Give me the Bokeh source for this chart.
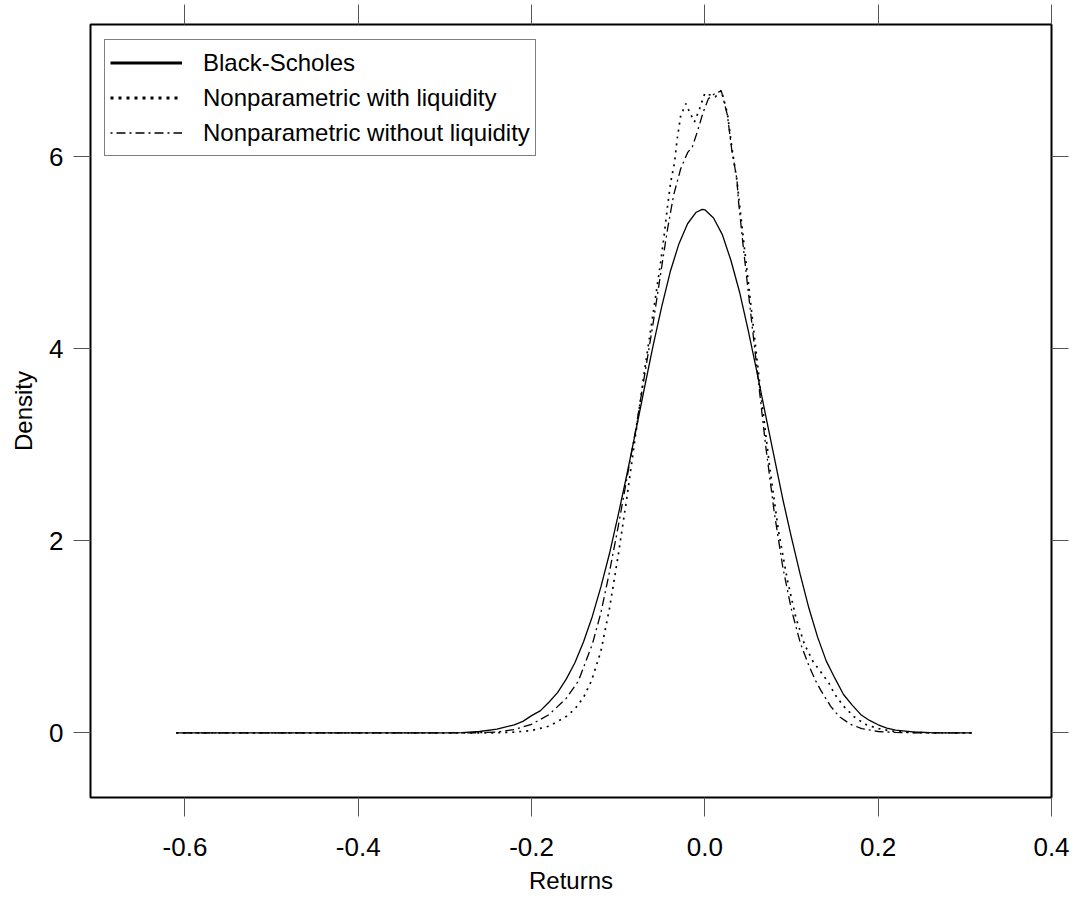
from bokeh.plotting import figure
from bokeh.models import (Range1d, LinearAxis, FixedTicker, Legend, LegendItem,
                          CustomLabelingPolicy)
from bokeh.embed import file_html
from bokeh.resources import INLINE

# ---- data ----
bs_x = [-0.61, -0.5, -0.4, -0.3, -0.28, -0.26, -0.24, -0.22, -0.21, -0.20, -0.19, -0.18, -0.17, -0.16,
        -0.15, -0.14, -0.13, -0.12, -0.11, -0.10, -0.09, -0.08, -0.07, -0.06, -0.05, -0.04, -0.03,
        -0.02, -0.01, -0.003, 0.0, 0.01, 0.02, 0.03, 0.04, 0.05, 0.06, 0.07, 0.08, 0.09, 0.10, 0.11,
        0.12, 0.13, 0.14, 0.15, 0.16, 0.17, 0.18, 0.19, 0.20, 0.21, 0.22, 0.24, 0.26, 0.28, 0.308]
bs_y = [0.0, 0.0, 0.0, 0.0, 0.004, 0.015, 0.04, 0.085, 0.12, 0.18, 0.23, 0.32, 0.42, 0.56,
        0.73, 0.95, 1.21, 1.52, 1.87, 2.27, 2.69, 3.13, 3.58, 4.02, 4.43, 4.80, 5.09,
        5.30, 5.42, 5.45, 5.445, 5.36, 5.19, 4.92, 4.59, 4.19, 3.76, 3.31, 2.87, 2.43, 2.03, 1.65,
        1.30, 1.00, 0.75, 0.57, 0.40, 0.29, 0.19, 0.13, 0.085, 0.05, 0.03, 0.01, 0.003, 0.001, 0.0]

wl_x = [-0.61, -0.5, -0.4, -0.3, -0.26, -0.24, -0.22, -0.20, -0.18, -0.16, -0.15, -0.14, -0.131,
        -0.12, -0.11, -0.10, -0.09, -0.08, -0.07, -0.06, -0.051, -0.047, -0.043, -0.0395, -0.035,
        -0.032, -0.028, -0.022, -0.017, -0.012, -0.006, 0.0, 0.006, 0.012, 0.019, 0.026, 0.031,
        0.037, 0.04, 0.045, 0.055, 0.065, 0.075, 0.085, 0.095, 0.105, 0.115, 0.125, 0.135, 0.143,
        0.15, 0.16, 0.172, 0.185, 0.20, 0.215, 0.23, 0.25, 0.27, 0.308]
wl_y = [0.0, 0.0, 0.0, 0.0, 0.0, 0.002, 0.008, 0.025, 0.07, 0.17, 0.25, 0.37, 0.54,
        0.85, 1.30, 1.85, 2.45, 3.10, 3.75, 4.35, 4.90, 5.18, 5.49, 5.73, 5.94,
        6.18, 6.42, 6.55, 6.45, 6.36, 6.50, 6.66, 6.64, 6.62, 6.69, 6.45, 6.10,
        5.75, 5.50, 5.10, 4.30, 3.50, 2.75, 2.10, 1.60, 1.20, 0.92, 0.74, 0.62, 0.52,
        0.40, 0.28, 0.17, 0.09, 0.045, 0.02, 0.01, 0.003, 0.0, 0.0]

wo_x = [-0.61, -0.5, -0.4, -0.3, -0.26, -0.24, -0.22, -0.20, -0.18, -0.16, -0.146, -0.13, -0.12,
        -0.11, -0.10, -0.09, -0.08, -0.07, -0.06, -0.049, -0.043, -0.036, -0.028, -0.020, -0.0145,
        -0.009, -0.002, 0.004, 0.012, 0.019, 0.026, 0.031, 0.037, 0.0385, 0.045, 0.05, 0.055, 0.06,
        0.07, 0.08, 0.09, 0.10, 0.11, 0.12, 0.128, 0.134, 0.145, 0.155, 0.168, 0.181, 0.20, 0.22,
        0.25, 0.308]
wo_y = [0.0, 0.0, 0.0, 0.0, 0.002, 0.01, 0.035, 0.09, 0.19, 0.36, 0.54, 0.92, 1.25,
        1.68, 2.15, 2.65, 3.15, 3.70, 4.25, 4.90, 5.25, 5.60, 5.87, 6.04, 6.10,
        6.25, 6.46, 6.60, 6.66, 6.68, 6.43, 6.07, 5.76, 5.56, 5.00, 4.60, 4.20, 3.80,
        3.00, 2.30, 1.72, 1.28, 0.94, 0.70, 0.54, 0.44, 0.28, 0.17, 0.09, 0.045, 0.015, 0.005,
        0.0, 0.0]

x_ticks = [-0.6, -0.4, -0.2, 0.0, 0.2, 0.4]
x_tick_labels = ["-0.6", "-0.4", "-0.2", "0.0", "0.2", "0.4"]
y_ticks = [0, 2, 4, 6]
y_tick_labels = ["0", "2", "4", "6"]
series_names = ["Black-Scholes", "Nonparametric with liquidity", "Nonparametric without liquidity"]

FONT = "Liberation Sans, Arial, Helvetica, sans-serif"
TICK_COLOR = "#555555"

p = figure(width=1078, height=901,
           x_range=Range1d(-0.709, 0.4), y_range=Range1d(-0.672, 7.374),
           output_backend="svg", toolbar_location=None,
           min_border_left=90, min_border_right=27, min_border_top=22, min_border_bottom=104)
p.grid.visible = False
p.outline_line_color = "black"
p.outline_line_width = 2
p.background_fill_color = "white"
p.border_fill_color = "white"

xt = FixedTicker(ticks=x_ticks)
yt = FixedTicker(ticks=y_ticks)

no_labels = CustomLabelingPolicy(code="return new Set()")

def style(ax, ticker, labels, out, show_labels=True):
    ax.ticker = ticker
    ax.axis_line_color = None
    ax.major_tick_in = 0
    ax.major_tick_out = out
    ax.major_tick_line_color = TICK_COLOR
    ax.major_tick_line_width = 1
    ax.minor_tick_line_color = None
    ax.major_label_overrides = {t: l for t, l in zip(ticker.ticks, labels)}
    ax.major_label_text_font = FONT
    ax.major_label_text_color = "black"
    if show_labels:
        ax.major_label_text_font_size = "26px"
    else:
        ax.major_label_policy = no_labels
        ax.major_label_text_font_size = "1px"
        ax.major_label_standoff = 0

bx = p.xaxis[0]
style(bx, xt, x_tick_labels, 19)
bx.major_label_standoff = 21
bx.axis_label = "Returns"
bx.axis_label_text_font = FONT
bx.axis_label_text_font_size = "24px"
bx.axis_label_text_font_style = "normal"
bx.axis_label_text_color = "black"
bx.axis_label_standoff = 8

ly = p.yaxis[0]
style(ly, yt, y_tick_labels, 17)
ly.major_label_standoff = 10
ly.major_label_orientation = "horizontal"
ly.axis_label = "Density"
ly.axis_label_text_font = FONT
ly.axis_label_text_font_size = "24px"
ly.axis_label_text_font_style = "normal"
ly.axis_label_text_color = "black"
ly.axis_label_standoff = 9

ry = LinearAxis()
style(ry, FixedTicker(ticks=y_ticks), y_tick_labels, 17, show_labels=False)
p.add_layout(ry, "right")

tx = LinearAxis()
style(tx, FixedTicker(ticks=x_ticks), x_tick_labels, 20, show_labels=False)
p.add_layout(tx, "above")

# ---- curves ----
p.line(bs_x, bs_y, line_color="black", line_width=1.3)
p.line(wl_x, wl_y, line_color="black", line_width=1.7, line_dash="2 5")
p.line(wo_x, wo_y, line_color="black", line_width=1.3, line_dash="2 4 9 4")

# ---- legend (thicker sample lines, as in the reference) ----
nan = float("nan")
g1 = p.line([nan, nan], [nan, nan], line_color="black", line_width=3)
g2 = p.line([nan, nan], [nan, nan], line_color="black", line_width=3, line_dash="3 5")
g3 = p.line([nan, nan], [nan, nan], line_color="black", line_width=1.6, line_dash="2 4 9 4")

legend = Legend(items=[LegendItem(label=series_names[0], renderers=[g1]),
                       LegendItem(label=series_names[1], renderers=[g2]),
                       LegendItem(label=series_names[2], renderers=[g3])],
                location=(14, 641))
legend.label_text_font = FONT
legend.label_text_font_size = "24px"
legend.label_text_color = "black"
legend.glyph_width = 72
legend.glyph_height = 35
legend.label_height = 35
legend.label_standoff = 21
legend.spacing = 0
legend.padding = 5
legend.margin = 0
legend.border_line_color = "black"
legend.border_line_width = 1
legend.background_fill_color = "white"
legend.background_fill_alpha = 1.0
p.add_layout(legend, "center")

open("out.html", "w").write(file_html(p, INLINE))
